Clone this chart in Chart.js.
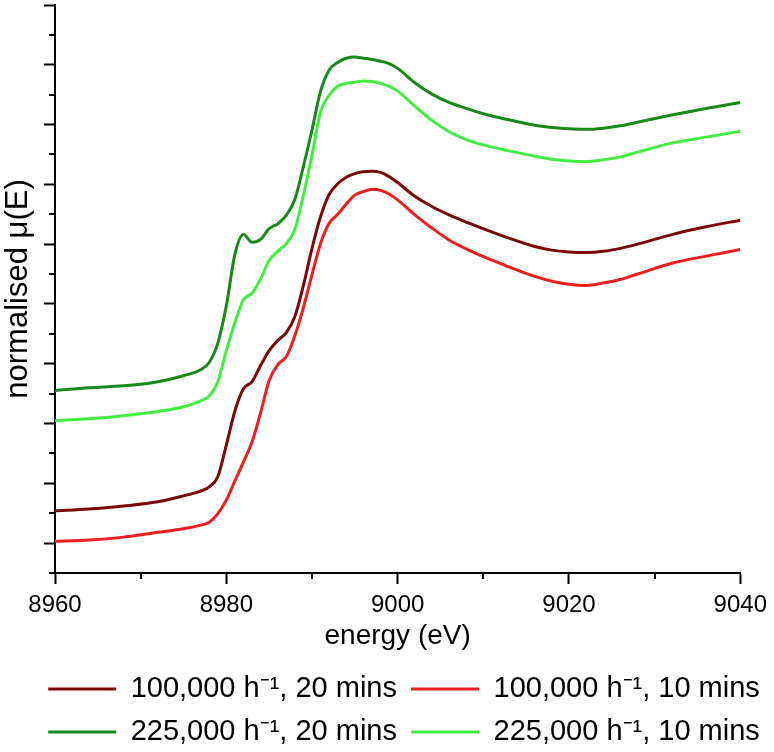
<!DOCTYPE html>
<html>
<head>
<meta charset="utf-8">
<script src="https://cdn.jsdelivr.net/npm/chart.js@4.4.0/dist/chart.umd.min.js"></script>
<style>
    html, body { margin: 0; padding: 0; background: #fff; }
    #wrap { width: 774px; height: 752px; }
</style>
</head>
<body>
<div id="wrap"><canvas id="xanes-chart" width="774" height="752"></canvas></div>
<script>
// energy grid (eV)
const energy = [8960, 8964, 8968, 8972, 8975, 8977, 8978, 8979, 8980, 8981,
    8982, 8983, 8984, 8985, 8986, 8987, 8988, 8989, 8990, 8991,
    8992, 8993, 8994, 8995, 8996, 8997, 8998, 8999, 9000, 9002,
    9004, 9006, 9008, 9010, 9013, 9016, 9018, 9020, 9022, 9024,
    9026, 9028, 9032, 9036, 9040];

// normalised mu(E), stacked with offsets (arbitrary units)
const ghsv100k20 = [0.54, 0.57, 0.62, 0.69, 0.79, 0.87, 0.94, 1.11, 1.64, 2.21,
    2.58, 2.70, 2.97, 3.22, 3.39, 3.52, 3.79, 4.31, 4.93, 5.46,
    5.83, 6.01, 6.12, 6.18, 6.21, 6.22, 6.20, 6.13, 6.03, 5.80,
    5.63, 5.49, 5.37, 5.26, 5.10, 4.96, 4.90, 4.87, 4.86, 4.88,
    4.93, 5.00, 5.16, 5.29, 5.40];
const ghsv100k10 = [0.03, 0.05, 0.10, 0.18, 0.24, 0.30, 0.35, 0.49, 0.72, 1.04,
    1.36, 1.69, 2.18, 2.72, 2.98, 3.12, 3.47, 3.94, 4.49, 5.01,
    5.35, 5.50, 5.67, 5.82, 5.88, 5.92, 5.90, 5.84, 5.74, 5.49,
    5.27, 5.07, 4.92, 4.79, 4.62, 4.46, 4.38, 4.33, 4.31, 4.35,
    4.41, 4.50, 4.68, 4.80, 4.91];
const ghsv225k20 = [2.55, 2.60, 2.63, 2.70, 2.80, 2.90, 3.02, 3.34, 3.97, 4.83,
    5.16, 5.03, 5.08, 5.26, 5.34, 5.48, 5.75, 6.30, 6.91, 7.56,
    7.91, 8.04, 8.11, 8.13, 8.11, 8.09, 8.06, 8.02, 7.94, 7.70,
    7.51, 7.37, 7.27, 7.18, 7.08, 6.99, 6.95, 6.93, 6.92, 6.94,
    6.98, 7.04, 7.16, 7.27, 7.37];
const ghsv225k10 = [2.05, 2.08, 2.13, 2.20, 2.28, 2.38, 2.46, 2.70, 3.22, 3.69,
    4.07, 4.18, 4.42, 4.73, 4.88, 5.01, 5.25, 5.82, 6.49, 7.21,
    7.49, 7.64, 7.69, 7.71, 7.73, 7.72, 7.69, 7.64, 7.56, 7.31,
    7.07, 6.88, 6.75, 6.66, 6.56, 6.47, 6.42, 6.39, 6.38, 6.41,
    6.46, 6.54, 6.69, 6.79, 6.89];

const seriesLabels = [
    '100,000 h\u207B\u00B9, 20 mins',
    '100,000 h\u207B\u00B9, 10 mins',
    '225,000 h\u207B\u00B9, 20 mins',
    '225,000 h\u207B\u00B9, 10 mins'
];
const seriesColors = ['#7a0a0a', '#f01e1e', '#178a17', '#42ee42'];

const FONT = "'Liberation Sans', Arial, Helvetica, sans-serif";

function toPoints(values) {
    return energy.map((e, i) => ({ x: e, y: values[i] }));
}

// short minor ticks half way between the labelled ones
const minorTicks = {
    id: 'minorTicks',
    afterDraw(chart) {
        const ctx = chart.ctx;
        const xs = chart.scales.x;
        const ys = chart.scales.y;
        ctx.save();
        ctx.strokeStyle = '#000';
        ctx.lineWidth = 2;
        ctx.beginPath();
        for (let v = ys.min; v < ys.max; v += 1) {
            const py = Math.round(ys.getPixelForValue(v));
            ctx.moveTo(ys.right - 6, py);
            ctx.lineTo(ys.right, py);
        }
        for (let e = xs.min + 10; e < xs.max; e += 20) {
            const px = Math.round(xs.getPixelForValue(e));
            ctx.moveTo(px, xs.top);
            ctx.lineTo(px, xs.top + 6);
        }
        ctx.stroke();
        ctx.restore();
    }
};

// nudge legend rows to the right like the original figure
const legendShift = {
    id: 'legendShift',
    afterLayout(chart) {
        chart.legend.left += 32;
        chart.legend.right += 32;
    }
};

const datasets = [ghsv100k20, ghsv100k10, ghsv225k20, ghsv225k10].map((vals, i) => ({
    label: seriesLabels[i],
    data: toPoints(vals),
    borderColor: seriesColors[i],
    backgroundColor: seriesColors[i],
    borderWidth: 3,
    pointRadius: 0,
    cubicInterpolationMode: 'monotone',
    fill: false
}));

new Chart(document.getElementById('xanes-chart').getContext('2d'), {
    type: 'line',
    data: { datasets: datasets },
    plugins: [minorTicks, legendShift],
    options: {
        responsive: false,
        devicePixelRatio: 1,
        animation: false,
        layout: { padding: { top: 5, right: 30, bottom: -4.5, left: 0 } },
        plugins: {
            tooltip: { enabled: false },
            legend: {
                position: 'bottom',
                labels: {
                    usePointStyle: true,
                    pointStyle: 'line',
                    pointStyleWidth: 68,
                    boxHeight: 29,
                    padding: 14,
                    color: '#000',
                    font: { family: FONT, size: 29 }
                }
            }
        },
        scales: {
            x: {
                type: 'linear',
                min: 8960,
                max: 9040,
                afterFit: s => { s.height = 87.5; },
                ticks: {
                    stepSize: 20,
                    padding: 7,
                    color: '#000',
                    maxRotation: 0,
                    font: { family: FONT, size: 24 },
                    callback: v => String(v)
                },
                grid: {
                    drawOnChartArea: false,
                    drawTicks: true,
                    tickLength: 11,
                    tickWidth: 2,
                    tickColor: '#000'
                },
                border: { display: true, color: '#000', width: 2 },
                title: {
                    display: true,
                    text: 'energy (eV)',
                    color: '#000',
                    font: { family: FONT, size: 28 },
                    padding: { top: 4, bottom: 7 }
                }
            },
            y: {
                type: 'linear',
                min: -0.5,
                max: 9,
                afterFit: s => { s.width = 55; },
                ticks: { display: false, stepSize: 1 },
                afterBuildTicks: s => {
                    s.ticks = s.ticks.filter(t => Number.isInteger(t.value));
                },
                grid: {
                    drawOnChartArea: false,
                    drawTicks: true,
                    tickLength: 11,
                    tickWidth: 2,
                    tickColor: '#000'
                },
                border: { display: true, color: '#000', width: 2 },
                title: {
                    display: true,
                    text: 'normalised \u03BC(E)',
                    color: '#000',
                    font: { family: FONT, size: 31 },
                    padding: { top: 0, bottom: 7 }
                }
            }
        }
    }
});
</script>
</body>
</html>
